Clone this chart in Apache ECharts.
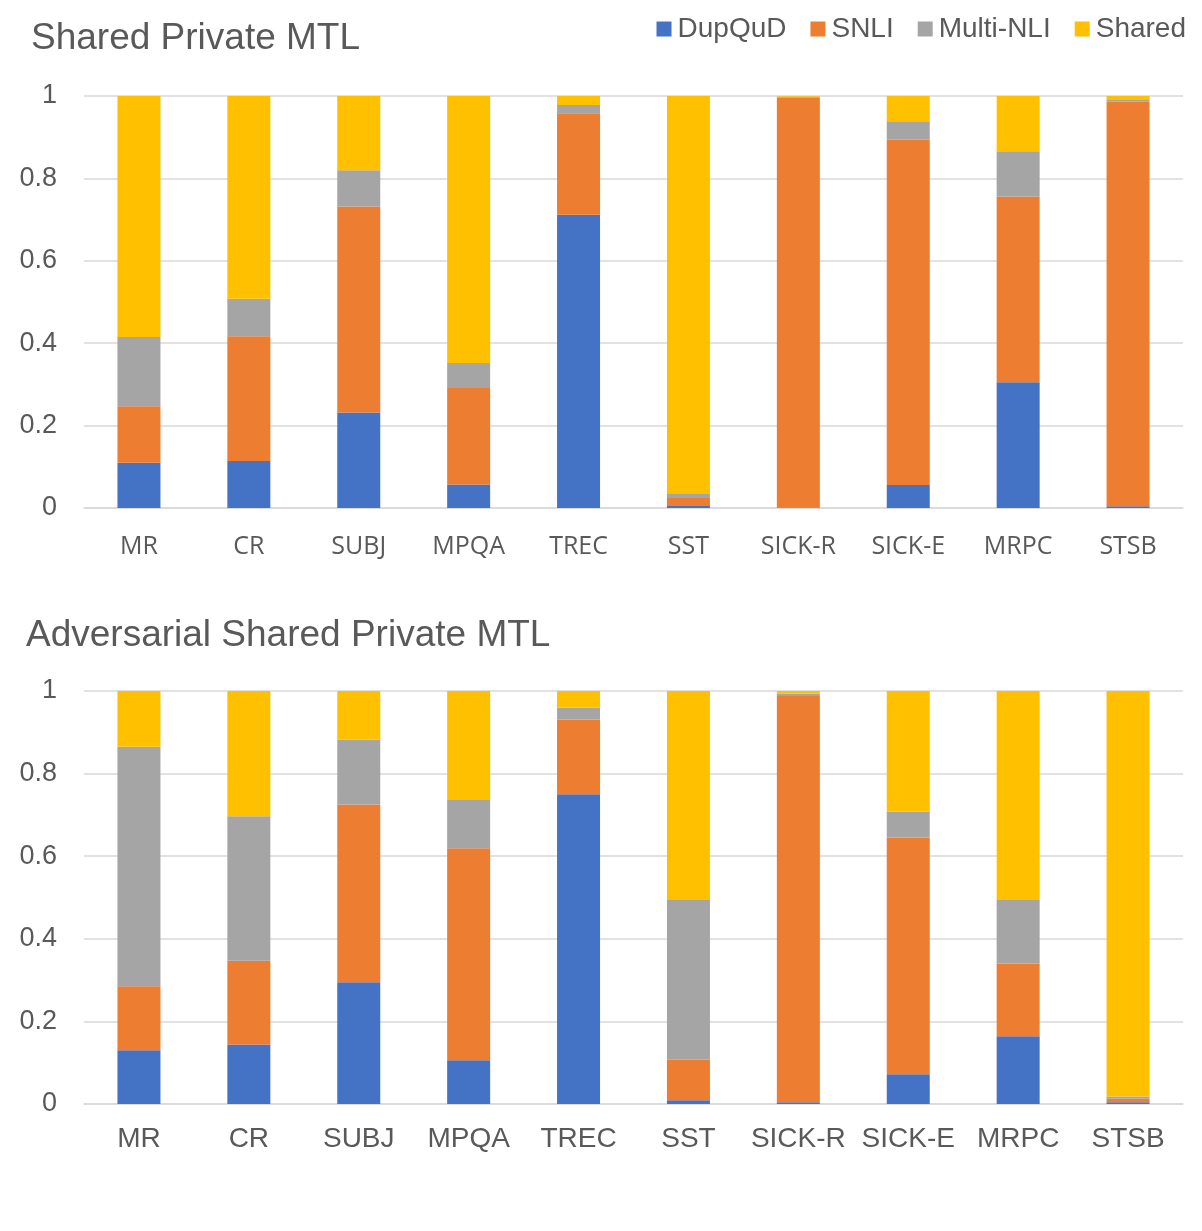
<!DOCTYPE html>
<html>
<head>
<meta charset="utf-8">
<script src="https://cdn.jsdelivr.net/npm/echarts@6/dist/echarts.min.js"></script>
<style>html,body{margin:0;padding:0;background:#fff}#c{width:1202px;height:1231px}</style>
</head>
<body>
<div id="c"></div>
<script>
const categories = ['MR','CR','SUBJ','MPQA','TREC','SST','SICK-R','SICK-E','MRPC','STSB'];
const seriesNames = ['DupQuD','SNLI','Multi-NLI','Shared'];
const colors = ['#4472C4','#ED7D31','#A5A5A5','#FFC000'];
const yTicks = [0, 0.2, 0.4, 0.6, 0.8, 1];

// Shared Private MTL
const spDupQuD  = [0.110, 0.114, 0.232, 0.057, 0.712, 0.005, 0.001, 0.056, 0.305, 0.004];
const spSNLI    = [0.137, 0.303, 0.500, 0.234, 0.246, 0.019, 0.995, 0.838, 0.451, 0.982];
const spMulti   = [0.168, 0.091, 0.088, 0.061, 0.020, 0.012, 0.002, 0.045, 0.110, 0.004];
const spShared  = [0.585, 0.492, 0.180, 0.648, 0.022, 0.964, 0.002, 0.061, 0.134, 0.010];

// Adversarial Shared Private MTL
const aspDupQuD = [0.130, 0.144, 0.295, 0.106, 0.750, 0.009, 0.004, 0.072, 0.164, 0.004];
const aspSNLI   = [0.155, 0.203, 0.430, 0.513, 0.181, 0.098, 0.984, 0.573, 0.176, 0.009];
const aspMulti  = [0.580, 0.350, 0.157, 0.117, 0.029, 0.387, 0.006, 0.063, 0.154, 0.005];
const aspShared = [0.135, 0.303, 0.118, 0.264, 0.040, 0.506, 0.006, 0.292, 0.506, 0.982];

const txt = '#595959';
const grid = '#D9D9D9';
const sans = 'Liberation Sans, Arial, sans-serif';

function yAxis(gi){
  return {
    type:'value', gridIndex:gi, min:0, max:1, interval:0.2,
    axisLine:{show:false}, axisTick:{show:false},
    axisLabel:{color:txt, fontSize:27, fontFamily:sans, margin:27,
      formatter:v => yTicks.indexOf(Math.round(v*10)/10) >= 0 ? String(Math.round(v*10)/10) : ''},
    splitLine:{lineStyle:{color:grid, width:1.5}}
  };
}
function xAxis(gi, fs, fam, margin){
  return {
    type:'category', gridIndex:gi, data:categories,
    axisLine:{lineStyle:{color:grid, width:1.5}}, axisTick:{show:false},
    axisLabel:{color:txt, fontSize:fs, fontFamily:fam, margin:margin, interval:0}
  };
}
const data1 = [spDupQuD, spSNLI, spMulti, spShared];
const data2 = [aspDupQuD, aspSNLI, aspMulti, aspShared];
const series = [];
[data1, data2].forEach((ds, gi) => {
  ds.forEach((d, i) => {
    series.push({
      name: seriesNames[i], type:'bar', stack:'s'+gi,
      xAxisIndex:gi, yAxisIndex:gi, data:d, barWidth:43,
      itemStyle:{color:colors[i]}, emphasis:{disabled:true}
    });
  });
});

const chart = echarts.init(document.getElementById('c'), null, {renderer:'canvas'});
chart.setOption({
  animation:false,
  color: colors,
  title:[
    {text:'Shared Private MTL', left:31, top:20, padding:0,
     textStyle:{color:txt, fontSize:37, fontWeight:'normal', fontFamily:sans}},
    {text:'Adversarial Shared Private MTL', left:26, top:617, padding:0,
     textStyle:{color:txt, fontSize:37, fontWeight:'normal', fontFamily:sans}}
  ],
  legend:{
    data:seriesNames, right:16, top:15, padding:0,
    icon:'rect', itemWidth:15, itemHeight:15, itemGap:24,
    textStyle:{color:txt, fontSize:28, fontFamily:sans, padding:[0,0,0,1]}
  },
  grid:[
    {left:84, right:19, top:96, height:412},
    {left:84, right:19, top:691, height:413}
  ],
  xAxis:[xAxis(0, 25, 'Open Sans, sans-serif', 26), xAxis(1, 28, sans, 21)],
  yAxis:[yAxis(0), yAxis(1)],
  series: series
});
</script>
</body>
</html>
